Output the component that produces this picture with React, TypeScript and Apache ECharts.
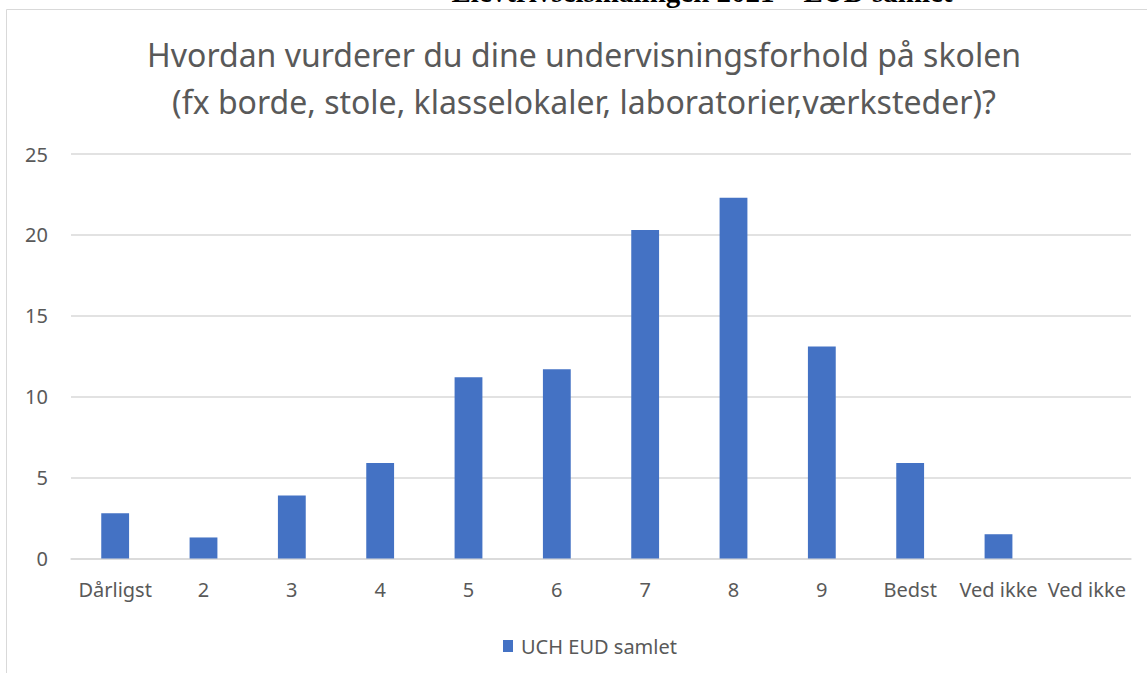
import React, { useEffect, useRef } from "react";
import * as echarts from "echarts";

const categories = ["Dårligst", "2", "3", "4", "5", "6", "7", "8", "9", "Bedst", "Ved ikke", "Ved ikke"];
const values = [2.8, 1.3, 3.9, 5.9, 11.2, 11.7, 20.3, 22.3, 13.1, 5.9, 1.5, 0];
const seriesName = "UCH EUD samlet";
const titleText = "Hvordan vurderer du dine undervisningsforhold på skolen\n(fx borde, stole, klasselokaler, laboratorier,værksteder)?";
const headerText = "Elevtrivselsmålingen 2021 – EUD samlet";
const yMin = 0;
const yMax = 25;
const yInterval = 5;

export default function App() {
  const ref = useRef<HTMLDivElement>(null);
  useEffect(() => {
    document.body.style.margin = "0";
    const chart = echarts.init(ref.current!, null, { renderer: "svg" });
    const font = '"Noto Sans", "Open Sans", sans-serif';
    chart.setOption({
      animation: false,
      backgroundColor: "#ffffff",
      title: {
        text: titleText,
        left: 584,
        top: 31,
        textAlign: "center",
        padding: 0,
        textStyle: {
          fontFamily: font,
          fontSize: 32,
          fontWeight: "normal",
          color: "#595959",
          lineHeight: 47,
        },
      },
      graphic: [
        {
          type: "rect",
          silent: true,
          shape: { x: 6.5, y: 9.5, width: 1300, height: 800 },
          style: { fill: "none", stroke: "#d9d9d9", lineWidth: 1 },
        },
        {
          type: "text",
          silent: true,
          x: 702,
          y: -8,
          style: {
            text: headerText,
            font: 'bold 29px "Liberation Serif", "DejaVu Serif", serif',
            fill: "#000000",
            align: "center",
            verticalAlign: "middle",
          },
        },
      ],
      legend: {
        data: [seriesName],
        left: 498,
        top: 631,
        itemWidth: 10,
        itemHeight: 12,
        icon: "rect",
        textStyle: { fontFamily: font, fontSize: 20, color: "#595959", padding: [0, 0, 0, 3] },
      },
      grid: { left: 71, right: 16, top: 154, bottom: 114.5, containLabel: false },
      xAxis: {
        type: "category",
        data: categories,
        axisLine: { lineStyle: { color: "#d9d9d9", width: 1.5 } },
        axisTick: { show: false },
        axisLabel: {
          interval: 0,
          hideOverlap: false,
          margin: 21,
          fontFamily: font,
          fontSize: 20,
          color: "#595959",
        },
      },
      yAxis: {
        type: "value",
        min: yMin,
        max: yMax,
        interval: yInterval,
        axisLine: { show: false },
        axisTick: { show: false },
        splitLine: { lineStyle: { color: "#d9d9d9", width: 1.5 } },
        axisLabel: { margin: 23, fontFamily: font, fontSize: 20, color: "#595959" },
      },
      series: [
        {
          name: seriesName,
          type: "bar",
          data: values,
          barCategoryGap: "68.5%",
          itemStyle: { color: "#4472C4" },
        },
      ],
    });
    return () => chart.dispose();
  }, []);
  return (
    <div
      ref={ref}
      style={{ position: "absolute", left: 0, top: 0, width: 1147, height: 673 }}
    />
  );
}
